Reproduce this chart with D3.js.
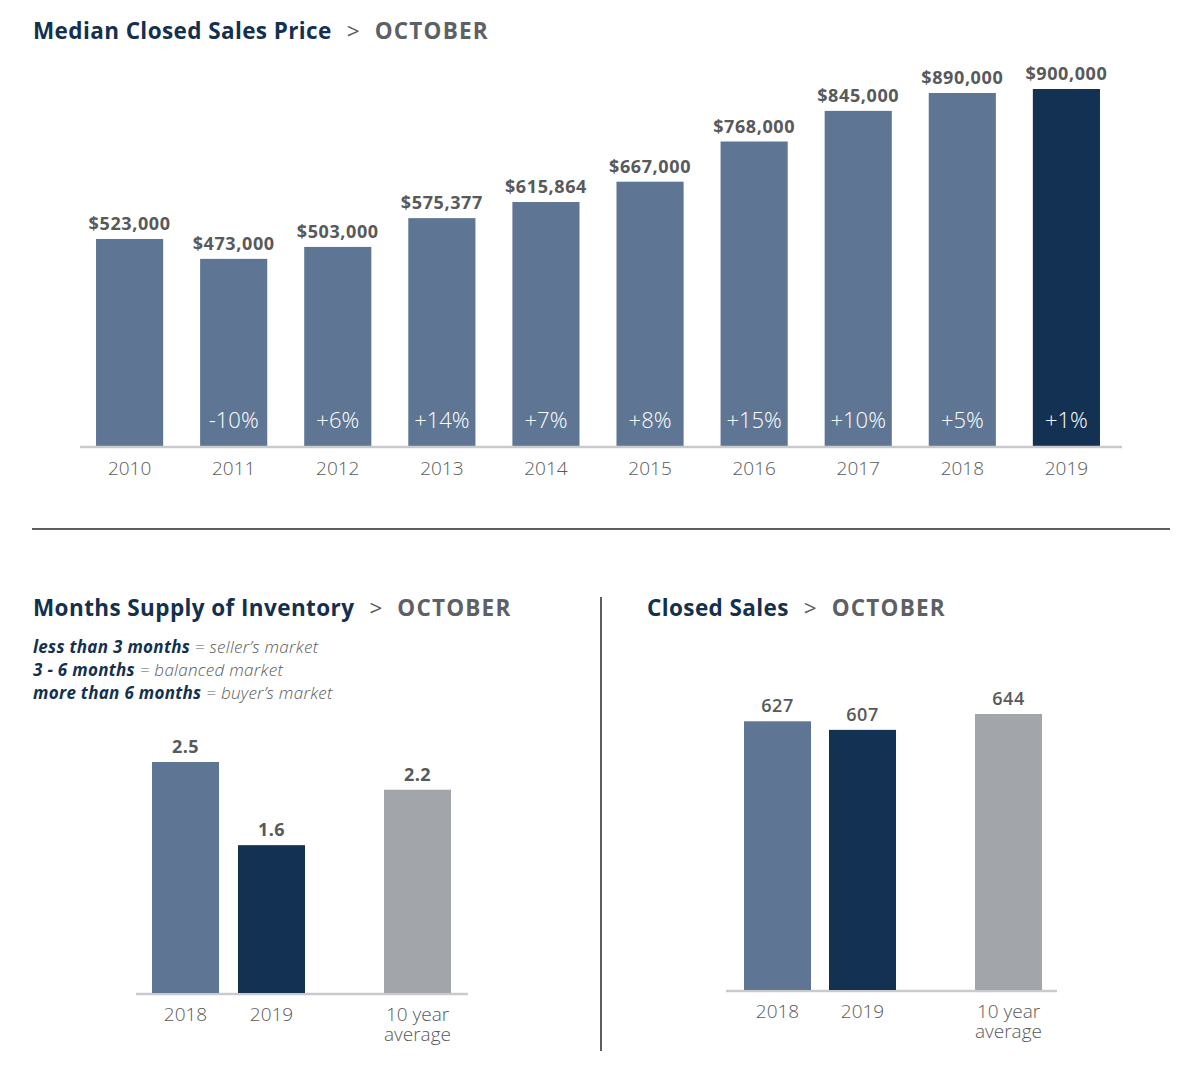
<!DOCTYPE html>
<html><head><meta charset="utf-8">
<script src="https://cdn.jsdelivr.net/npm/d3@7"></script>
<style>
html,body{margin:0;padding:0;background:#fff;}
svg{display:block;font-family:"Open Sans",Lato,sans-serif;}
</style></head>
<body><svg id="c" width="1200" height="1074"></svg>
<script>
// ---- data ----
const years = ["2010","2011","2012","2013","2014","2015","2016","2017","2018","2019"];
const prices = [523000,473000,503000,575377,615864,667000,768000,845000,890000,900000];
const priceLabels = ["$523,000","$473,000","$503,000","$575,377","$615,864","$667,000","$768,000","$845,000","$890,000","$900,000"];
const pctChange = ["","-10%","+6%","+14%","+7%","+8%","+15%","+10%","+5%","+1%"];

const smallCats = ["2018","2019","10 year average"];
const supplyValues = [2.5,1.6,2.2];
const supplyLabels = ["2.5","1.6","2.2"];
const salesValues = [627,607,644];
const salesLabels = ["627","607","644"];
const legendLines = [
  ["less than 3 months", " = seller\u2019s market"],
  ["3 - 6 months", " = balanced market"],
  ["more than 6 months", " = buyer\u2019s market"]
];

// ---- styles ----
const NAVY="#133152", BLUE="#5e7694", GREY="#a2a5aa", TXT="#58595b", AX="#c9cacc", TITLE="#14304f";

const svg = d3.select("#c");

function title(x,y,main){
  const t = svg.append("text").attr("x",x).attr("y",y).attr("font-size",22.5).attr("font-weight",700);
  t.append("tspan").attr("fill",TITLE).attr("letter-spacing",0.4).text(main);
  t.append("tspan").attr("fill",TXT).attr("font-weight",400).attr("dx",15).text(">");
  t.append("tspan").attr("fill","#5d6065").attr("dx",15).attr("letter-spacing",1.2).text("OCTOBER");
}

// ---- top chart ----
title(33,39,"Median Closed Sales Price");
const x = d3.scaleBand().domain(years).range([77.5,1118.5]).paddingInner(0.355).paddingOuter(0.178);
const y = d3.scaleLinear().domain([0,900000]).range([447,89]);
const g = svg.append("g");
g.selectAll("rect").data(years).join("rect")
  .attr("x",d=>x(d)).attr("width",x.bandwidth())
  .attr("y",(d,i)=>y(prices[i])).attr("height",(d,i)=>y(0)-y(prices[i]))
  .attr("fill",(d,i)=>i===years.length-1?NAVY:BLUE);
g.selectAll("text.v").data(years).join("text").attr("class","v")
  .attr("x",d=>x(d)+x.bandwidth()/2).attr("y",(d,i)=>y(prices[i])-9)
  .attr("text-anchor","middle").attr("font-size",18).attr("font-weight",700).attr("letter-spacing",0.6).attr("fill",TXT)
  .text((d,i)=>priceLabels[i]);
g.selectAll("text.p").data(years).join("text").attr("class","p")
  .attr("x",d=>x(d)+x.bandwidth()/2).attr("y",428)
  .attr("text-anchor","middle").attr("font-size",22).attr("font-weight",300).attr("fill","#fff")
  .text((d,i)=>pctChange[i]);
const xa = g.append("g").attr("transform","translate(0,447)").call(d3.axisBottom(x).tickSize(0).tickPadding(15));
xa.select(".domain").attr("stroke",AX).attr("stroke-width",2.5).attr("d","M80,0H1122");
xa.selectAll("text").attr("font-size",19).attr("font-weight",300).attr("fill",TXT).attr("font-family","'Open Sans',sans-serif");

// dividers
svg.append("line").attr("x1",32).attr("x2",1170).attr("y1",529).attr("y2",529).attr("stroke","#5b5e63").attr("stroke-width",2);
svg.append("line").attr("x1",601).attr("x2",601).attr("y1",597).attr("y2",1051).attr("stroke","#5b5e63").attr("stroke-width",2);

// ---- small charts ----
function small(cfg){
  const xs = d3.scaleOrdinal().domain(smallCats).range(cfg.centers);
  const ys = d3.scaleLinear().domain([0,cfg.max]).range([cfg.base,cfg.top]);
  const bw = 67;
  const gg = svg.append("g");
  gg.append("line").attr("x1",cfg.axis[0]).attr("x2",cfg.axis[1]).attr("y1",cfg.base+1).attr("y2",cfg.base+1).attr("stroke",AX).attr("stroke-width",2.5);
  gg.selectAll("rect").data(smallCats).join("rect")
    .attr("x",d=>xs(d)-bw/2).attr("width",bw)
    .attr("y",(d,i)=>ys(cfg.values[i])).attr("height",(d,i)=>cfg.base-ys(cfg.values[i]))
    .attr("fill",(d,i)=>[BLUE,NAVY,GREY][i]);
  gg.selectAll("text.v").data(smallCats).join("text").attr("class","v")
    .attr("x",d=>xs(d)).attr("y",(d,i)=>ys(cfg.values[i])-9)
    .attr("text-anchor","middle").attr("font-size",18).attr("letter-spacing",0.5).attr("font-weight",cfg.bold?700:600).attr("fill",TXT)
    .text((d,i)=>cfg.labels[i]);
  smallCats.forEach(d=>{
    const words = d==="10 year average" ? ["10 year","average"] : [d];
    words.forEach((w,j)=>{
      gg.append("text").attr("x",xs(d)).attr("y",cfg.base+28+j*20)
        .attr("text-anchor","middle").attr("font-size",19).attr("font-weight",300).attr("fill",TXT).text(w);
    });
  });
}

title(33,616,"Months Supply of Inventory");
const lg = svg.append("g");
legendLines.forEach((l,i)=>{
  const t = lg.append("text").attr("x",33).attr("y",653+i*23).attr("font-size",17).attr("letter-spacing",0.3).attr("font-style","italic");
  t.append("tspan").attr("font-weight",700).attr("fill",TITLE).text(l[0]);
  t.append("tspan").attr("font-weight",300).attr("fill",TXT).text(l[1]);
});
small({centers:[185.5,271.5,417.5],axis:[136,468],base:993,top:762,max:2.5,values:supplyValues,labels:supplyLabels,bold:true});

title(647,616,"Closed Sales");
small({centers:[777.5,862.5,1008.5],axis:[726,1057],base:990,top:714,max:644,values:salesValues,labels:salesLabels,bold:false});
</script></body></html>
